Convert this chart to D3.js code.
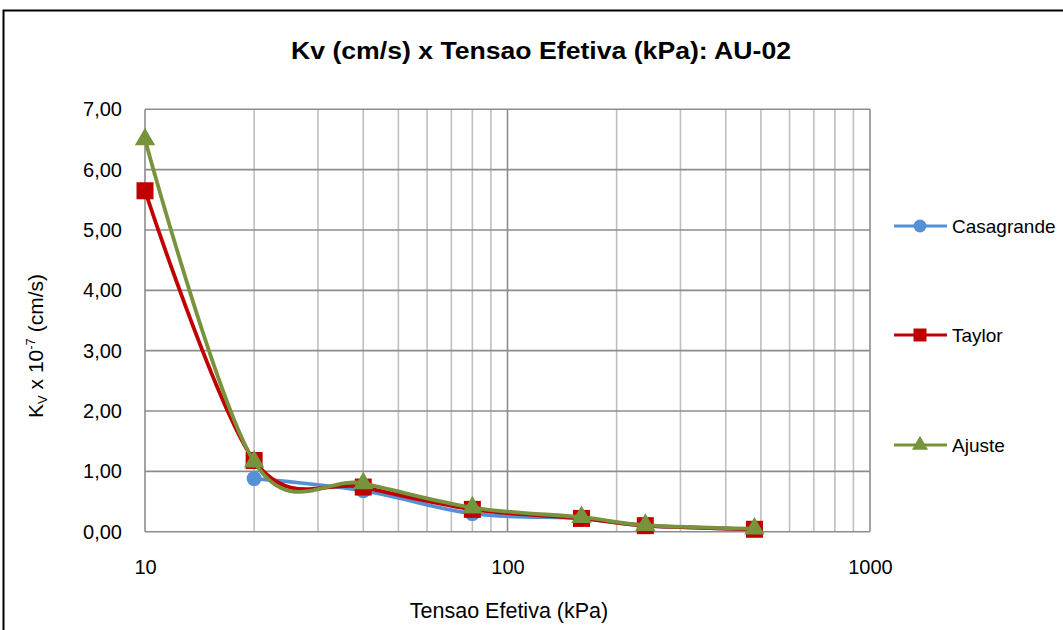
<!DOCTYPE html>
<html>
<head>
<meta charset="utf-8">
<script src="https://cdn.jsdelivr.net/npm/d3@7"></script>
<style>
  html, body { margin: 0; padding: 0; background: #fff; }
  svg { display: block; font-family: "Liberation Sans", Arial, sans-serif; }
</style>
</head>
<body>
<svg id="chart" width="1063" height="630"></svg>
<script>
// Effective stress (kPa) for each load stage
const tensao = [10, 20, 40, 80, 160, 240, 480];
// Kv x 10^-7 (cm/s) per method
const casagrande = [null, 0.88, 0.68, 0.30, 0.22, 0.10, 0.04];
const taylor = [5.65, 1.18, 0.74, 0.37, 0.22, 0.10, 0.04];
const ajuste = [6.50, 1.16, 0.80, 0.40, 0.24, 0.11, 0.05];
const seriesNames = ["Casagrande", "Taylor", "Ajuste"];
const yTicks = [0, 1, 2, 3, 4, 5, 6, 7];
const xTicks = [10, 100, 1000];

const series = [
  { name: seriesNames[0], values: casagrande, color: "#5590d6", shape: "circle" },
  { name: seriesNames[1], values: taylor, color: "#c00000", shape: "square" },
  { name: seriesNames[2], values: ajuste, color: "#77933c", shape: "triangle" }
];

const svg = d3.select("#chart");
const W = 1063, H = 630;
const plot = { left: 145, right: 870, top: 109.3, bottom: 531.7 };

const x = d3.scaleLog().domain([10, 1000]).range([plot.left, plot.right]);
const y = d3.scaleLinear().domain([0, 7]).range([plot.bottom, plot.top]);
const fmt = v => d3.format(".2f")(v).replace(".", ",");

// chart frame
svg.append("rect").attr("x", 3.5).attr("y", 10.5).attr("width", W + 10).attr("height", H + 10)
  .attr("fill", "#fff").attr("stroke", "#000").attr("stroke-width", 2);

// title
svg.append("text").attr("x", 541).attr("y", 59).attr("text-anchor", "middle")
  .attr("font-weight", "bold").attr("font-size", 23).attr("fill", "#000")
  .attr("textLength", 500).attr("lengthAdjust", "spacingAndGlyphs")
  .text("Kv (cm/s) x Tensao Efetiva (kPa): AU-02");

// minor vertical gridlines
const minor = [];
for (let d = 10; d < 1000; d *= 10) for (let k = 2; k <= 9; k++) minor.push(d * k);
const grid = svg.append("g");
grid.selectAll("line.minor").data(minor).join("line").attr("class", "minor")
  .attr("x1", d => x(d)).attr("x2", d => x(d)).attr("y1", plot.top).attr("y2", plot.bottom)
  .attr("stroke", "#bfbfbf").attr("stroke-width", 1.6);
// major gridlines
grid.selectAll("line.vmaj").data(xTicks).join("line").attr("class", "vmaj")
  .attr("x1", d => x(d)).attr("x2", d => x(d)).attr("y1", plot.top).attr("y2", plot.bottom)
  .attr("stroke", "#8c8c8c").attr("stroke-width", 1.6);
grid.selectAll("line.hmaj").data(yTicks).join("line").attr("class", "hmaj")
  .attr("x1", plot.left).attr("x2", plot.right).attr("y1", d => y(d)).attr("y2", d => y(d))
  .attr("stroke", "#8c8c8c").attr("stroke-width", 1.6);

// axis labels via d3 axes (no tick marks, no domain)
const yAxis = svg.append("g").attr("transform", `translate(${plot.left},0)`)
  .call(d3.axisLeft(y).tickValues(yTicks).tickFormat(fmt).tickSize(0).tickPadding(23));
const xAxis = svg.append("g").attr("transform", `translate(0,${plot.bottom})`)
  .call(d3.axisBottom(x).tickValues(xTicks).tickFormat(d3.format("d")).tickSize(0).tickPadding(28));
[yAxis, xAxis].forEach(a => {
  a.select(".domain").remove();
  a.selectAll("text").attr("font-size", 20).attr("fill", "#000")
    .attr("font-family", "'Liberation Sans', Arial, sans-serif");
});

// axis titles
svg.append("text").attr("x", 509).attr("y", 618).attr("text-anchor", "middle")
  .attr("font-size", 21.5).attr("fill", "#000").text("Tensao Efetiva (kPa)");

const yt = svg.append("text").attr("transform", "translate(43,346) rotate(-90)")
  .attr("text-anchor", "middle").attr("font-size", 21).attr("fill", "#000");
yt.append("tspan").text("K");
yt.append("tspan").attr("font-size", 13).attr("dy", 4).text("V");
yt.append("tspan").attr("dy", -4).text(" x 10");
yt.append("tspan").attr("font-size", 13).attr("dy", -8).text("-7");
yt.append("tspan").attr("dy", 8).text(" (cm/s)");

// markers
function drawMarker(g, shape, color, size) {
  if (shape === "circle") {
    g.append("circle").attr("r", size / 2).attr("fill", color);
  } else if (shape === "square") {
    g.append("rect").attr("x", -size / 2).attr("y", -size / 2).attr("width", size).attr("height", size)
      .attr("fill", color);
  } else {
    g.append("path").attr("d", d3.symbol(d3.symbolTriangle, size * size * 0.5)()).attr("fill", color);
  }
}

const line = d3.line()
  .defined(d => d.v != null)
  .x(d => x(d.t)).y(d => y(d.v))
  .curve(d3.curveCatmullRom.alpha(0));

const markerSize = { circle: 15, square: 17, triangle: 19 };

series.forEach(s => {
  const pts = tensao.map((t, i) => ({ t, v: s.values[i] }));
  const g = svg.append("g");
  g.append("path").datum(pts.filter(p => p.v != null)).attr("d", line)
    .attr("fill", "none").attr("stroke", s.color).attr("stroke-width", 3.8)
    .attr("stroke-linejoin", "round").attr("stroke-linecap", "round");
  pts.filter(p => p.v != null).forEach(p => {
    const m = g.append("g").attr("transform", `translate(${x(p.t)},${y(p.v)})`);
    drawMarker(m, s.shape, s.color, markerSize[s.shape]);
  });
});

// legend
const legendY = [226, 335, 445];
series.forEach((s, i) => {
  const g = svg.append("g").attr("transform", `translate(0,${legendY[i]})`);
  g.append("line").attr("x1", 894).attr("x2", 947).attr("y1", 0).attr("y2", 0)
    .attr("stroke", s.color).attr("stroke-width", 3);
  const m = g.append("g").attr("transform", "translate(920,0)");
  drawMarker(m, s.shape, s.color, s.shape === "triangle" ? 15 : 13);
  g.append("text").attr("x", 952).attr("y", 7).attr("font-size", 19).attr("fill", "#000").text(s.name);
});
</script>
</body>
</html>
